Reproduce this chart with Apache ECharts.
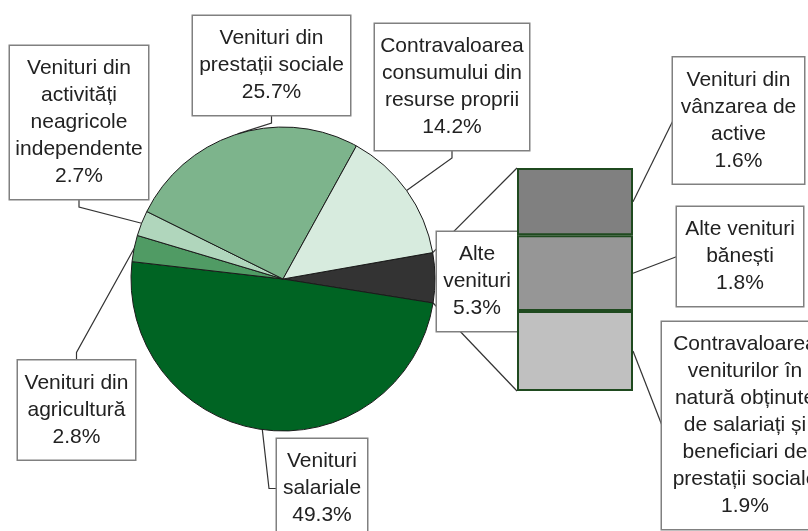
<!DOCTYPE html>
<html>
<head>
<meta charset="utf-8">
<script src="https://cdn.jsdelivr.net/npm/echarts@6/dist/echarts.min.js"></script>
<style>
  html, body { margin: 0; padding: 0; background: #fff; }
  #chart { width: 808px; height: 531px; }
</style>
</head>
<body>
<div id="chart"></div>
<script>
// pie slices, clockwise starting with "Alte venituri"
const pieNames = ['Alte\nvenituri', 'Venituri\nsalariale', 'Venituri din\nagricultură', 'Venituri din\nactivități\nneagricole\nindependente', 'Venituri din\nprestații sociale', 'Contravaloarea\nconsumului din\nresurse proprii']
const pieValues = [5.3, 49.3, 2.8, 2.7, 25.7, 14.2]
const pieColors = ['#333333', '#006423', '#509b64', '#b0d6bc', '#7db48c', '#d7ebde']

// breakdown of "Alte venituri", top to bottom of the bar
const barNames = ['Venituri din\nvânzarea de\nactive', 'Alte venituri\nbănești', 'Contravaloarea\nveniturilor în\nnatură obținute\nde salariați și\nbeneficiari de\nprestații sociale']
const barValues = [1.6, 1.8, 1.9]
const barColors = ['#808080', '#969696', '#c0c0c0']

// label boxes: centre, outer width, side where the leader line leaves the box
const pieBoxes = [
  { cx: 477, cy: 281.5, w: 80, side: null },
  { cx: 322, cy: 488.5, w: 90, side: 'left' },
  { cx: 76.5, cy: 410, w: 117, side: 'top' },
  { cx: 79, cy: 122.5, w: 138, side: 'bottom' },
  { cx: 271.5, cy: 65.5, w: 157, side: 'bottom' },
  { cx: 452, cy: 87, w: 154, side: 'bottom' }
]
const barBoxes = [
  { cx: 738.5, cy: 120.5, w: 131 },
  { cx: 740, cy: 256.5, w: 126 },
  { cx: 745, cy: 425.5, w: 166 }
]

const PIE_CX = 283, PIE_CY = 279, PIE_R = 152, START = 10
const GRID = { left: 517, top: 168, width: 116, height: 223 }
const FONT = 21, LINE_H = 27, PAD_V = 9, PAD_H = 4, STUB = 8

const pieTotal = pieValues.reduce((a, b) => a + b, 0)
const barTotal = barValues.reduce((a, b) => a + b, 0)

const boxStyle = {
  fontFamily: 'Liberation Sans, Arial, sans-serif',
  fontSize: FONT,
  lineHeight: LINE_H,
  color: '#222',
  backgroundColor: '#fff',
  borderColor: '#808080',
  borderWidth: 1.5,
  padding: [PAD_V, PAD_H],
  align: 'center'
}

function pct (v) {
  return v.toFixed(1) + '%'
}
function pieText (i) {
  return pieNames[i] + '\n' + pct(pieValues[i])
}
function barText (i) {
  return barNames[i] + '\n' + pct(barValues[i])
}
function boxHeight (text) {
  return text.split('\n').length * LINE_H + 2 * PAD_V
}
// angle (radians) of a point along the pie, measured like ECharts startAngle
function angleAt (share) {
  return (START - share / pieTotal * 360) * Math.PI / 180
}
function onArc (a) {
  return [PIE_CX + PIE_R * Math.cos(a), PIE_CY - PIE_R * Math.sin(a)]
}
function midAngle (i) {
  let before = 0
  for (let k = 0; k < i; k++) before += pieValues[k]
  return angleAt(before + pieValues[i] / 2)
}
function leaderPoints (i) {
  const box = pieBoxes[i]
  const h = boxHeight(pieText(i))
  let p, d
  if (box.side === 'left') { p = [box.cx - box.w / 2, box.cy]; d = [-1, 0] }
  if (box.side === 'top') { p = [box.cx, box.cy - h / 2]; d = [0, -1] }
  if (box.side === 'bottom') { p = [box.cx, box.cy + h / 2]; d = [0, 1] }
  return [onArc(midAngle(i)), [p[0] + d[0] * STUB, p[1] + d[1] * STUB], p]
}

const chart = echarts.init(document.getElementById('chart'))

const barSeries = [2, 1, 0].map(i => ({
  type: 'bar',
  stack: 'alte',
  barWidth: '100%',
  data: [barValues[i]],
  itemStyle: { color: barColors[i], borderColor: '#1f4a1f', borderWidth: 2 },
  label: Object.assign({}, boxStyle, {
    show: true,
    position: 'right',
    width: barBoxes[i].w - 2 * PAD_H,
    formatter: () => barText(i)
  }),
  labelLayout: { x: barBoxes[i].cx, y: barBoxes[i].cy, align: 'center', verticalAlign: 'middle' },
  emphasis: { disabled: true },
  z: 3
}))

chart.setOption({
  animation: false,
  grid: { left: GRID.left, top: GRID.top, width: GRID.width, height: GRID.height },
  xAxis: { type: 'category', data: ['Alte venituri'], show: false },
  yAxis: { type: 'value', min: 0, max: barTotal, show: false },
  series: [
    {
      type: 'pie',
      center: [PIE_CX, PIE_CY],
      radius: PIE_R,
      startAngle: START,
      clockwise: true,
      avoidLabelOverlap: false,
      itemStyle: { borderColor: '#1a1a1a', borderWidth: 1 },
      label: Object.assign({}, boxStyle, {
        show: true,
        position: 'outside',
        formatter: p => pieText(p.dataIndex)
      }),
      labelLine: { show: true, lineStyle: { color: '#333', width: 1.2 } },
      labelLayout: function (p) {
        const box = pieBoxes[p.dataIndex]
        const out = { x: box.cx, y: box.cy, align: 'center', verticalAlign: 'middle' }
        if (box.side) out.labelLinePoints = leaderPoints(p.dataIndex)
        return out
      },
      emphasis: { disabled: true },
      data: pieValues.map((v, i) => ({
        value: v,
        name: pieNames[i],
        itemStyle: { color: pieColors[i] },
        label: { width: pieBoxes[i].w - 2 * PAD_H },
        labelLine: { show: pieBoxes[i].side != null }
      }))
    }
  ].concat(barSeries)
})

// connectors from the "Alte venituri" slice to the bar, and bar leader lines
const lineStyle = { stroke: '#333', lineWidth: 1.2 }
const barTopY = chart.convertToPixel({ yAxisIndex: 0 }, barTotal)
const barBottomY = chart.convertToPixel({ yAxisIndex: 0 }, 0)
const sliceTop = onArc(angleAt(0))
const sliceBottom = onArc(angleAt(pieValues[0]))
const elements = [
  { type: 'line', z: 1, shape: { x1: sliceTop[0], y1: sliceTop[1], x2: GRID.left, y2: barTopY }, style: lineStyle },
  { type: 'line', z: 1, shape: { x1: sliceBottom[0], y1: sliceBottom[1], x2: GRID.left, y2: barBottomY }, style: lineStyle }
]
let above = 0
barValues.forEach((v, i) => {
  const y = chart.convertToPixel({ yAxisIndex: 0 }, barTotal - above - v / 2)
  above += v
  const box = barBoxes[i]
  elements.push({
    type: 'line',
    z: 1,
    shape: { x1: GRID.left + GRID.width, y1: y, x2: box.cx - box.w / 2, y2: box.cy },
    style: lineStyle
  })
})
chart.setOption({ graphic: { elements: elements } })
</script>
</body>
</html>
